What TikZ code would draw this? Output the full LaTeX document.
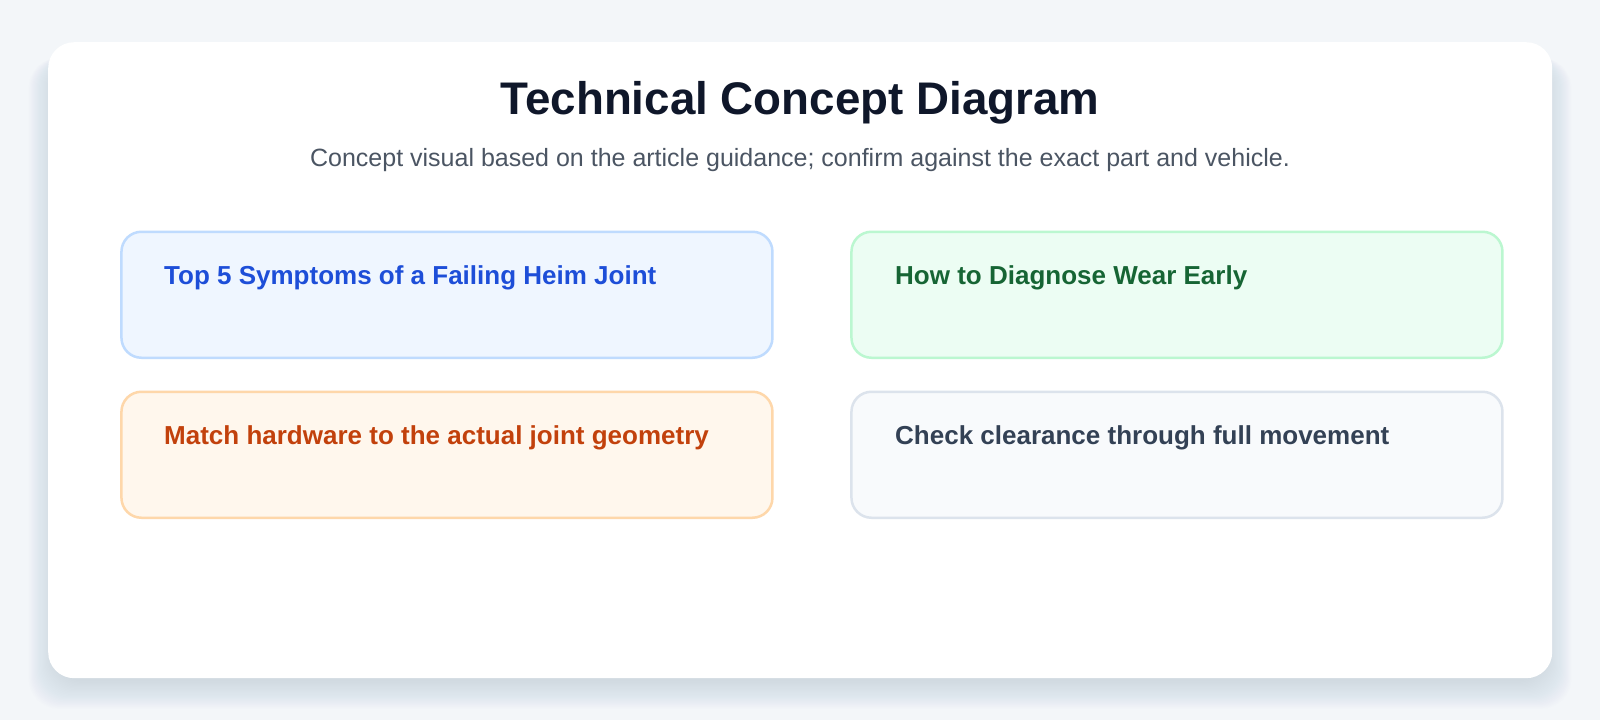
\documentclass[tikz,border=0pt]{standalone}
\usepackage{fontspec}
\setmainfont{Liberation Sans}
\definecolor{pagebg}{HTML}{F3F6F9}
\definecolor{shadowc}{HTML}{8A99AA}
\definecolor{titlec}{HTML}{0F172A}
\definecolor{subc}{HTML}{4B5563}
\definecolor{bluefill}{HTML}{EFF6FF}
\definecolor{blueline}{HTML}{BFDBFE}
\definecolor{bluetext}{HTML}{1D4ED8}
\definecolor{greenfill}{HTML}{ECFDF3}
\definecolor{greenline}{HTML}{BBF7D0}
\definecolor{greentext}{HTML}{166534}
\definecolor{orangefill}{HTML}{FFF7ED}
\definecolor{orangeline}{HTML}{FED7AA}
\definecolor{orangetext}{HTML}{C2410C}
\definecolor{slatefill}{HTML}{F8FAFC}
\definecolor{slateline}{HTML}{DCE3EC}
\definecolor{slatetext}{HTML}{334155}
\tikzset{
  cardbox/.style={fill=white, rounded corners=26pt, inner sep=0pt, anchor=north west, minimum width=1504pt, minimum height=636pt},
  tile/.style={rounded corners=20pt, line width=2.5pt, inner sep=0pt, anchor=north west, minimum width=651pt, minimum height=126pt},
  tiletext/.style={anchor=base west, inner sep=0pt, font=\fontsize{26}{30}\selectfont\bfseries},
}
\begin{document}
\begin{tikzpicture}[x=1pt,y=-1pt]
\fill[pagebg] (0,0) rectangle (1600,720);
\useasboundingbox (0,0) rectangle (1600,720);
% soft shadow of card
\foreach \i in {1,...,24}{
  \fill[shadowc, opacity=0.011, rounded corners=30pt]
    (48+7-\i*1.1, 42+16) rectangle (1552-7+\i*1.1, 678+2+\i*1.2);
}
\node[cardbox] (card) at (48,42) {};
% title and subtitle
\node[anchor=base, inner sep=0pt, text=titlec, font=\fontsize{45.7}{52}\selectfont\bfseries] (title) at (800,114.5) {Technical Concept Diagram};
\node[anchor=base, inner sep=0pt, text=subc, font=\fontsize{25}{30}\selectfont] (subtitle) at (800,166) {Concept visual based on the article guidance; confirm against the exact part and vehicle.};
% tiles
\node[tile, draw=blueline, fill=bluefill] (t1) at (120.2,230.5) {};
\node[tile, draw=greenline, fill=greenfill] (t2) at (850.2,230.5) {};
\node[tile, draw=orangeline, fill=orangefill] (t3) at (120.2,390.5) {};
\node[tile, draw=slateline, fill=slatefill] (t4) at (850.2,390.5) {};
\node[tiletext, text=bluetext] (l1) at (164,284) {Top 5 Symptoms of a Failing Heim Joint};
\node[tiletext, text=greentext] (l2) at (895,284) {How to Diagnose Wear Early};
\node[tiletext, text=orangetext] (l3) at (164,444) {Match hardware to the actual joint geometry};
\node[tiletext, text=slatetext] (l4) at (895,444) {Check clearance through full movement};
\end{tikzpicture}
\end{document}
